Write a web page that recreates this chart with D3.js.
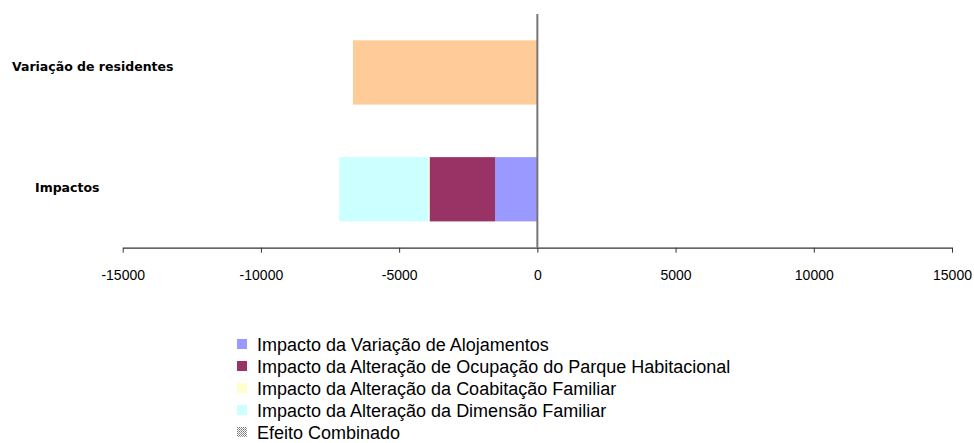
<!DOCTYPE html>
<html>
<head>
<meta charset="utf-8">
<script src="https://cdn.jsdelivr.net/npm/d3@7"></script>
<style>
  body { margin: 0; background: #fff; }
  svg { display: block; }
</style>
</head>
<body>
<div id="canvas"></div>
<script>
/*
 * Data
 */
const categories = ['Variação de residentes', 'Impactos'];
const seriesNames = [
  'Impacto da Variação de Alojamentos',
  'Impacto da Alteração de Ocupação do Parque Habitacional',
  'Impacto da Alteração da Coabitação Familiar',
  'Impacto da Alteração da Dimensão Familiar',
  'Efeito Combinado'
];
const variacaoResidentes = [-6670, 0];
const impactoAlojamentos = [0, -1530];
const impactoOcupacao = [0, -2370];
const impactoCoabitacao = [0, -40];
const impactoDimensao = [0, -3230];
const efeitoCombinado = [0, 0];
const xTicks = [-15000, -10000, -5000, 0, 5000, 10000, 15000];

/*
 * Layout
 */
const svgWidth = 974, svgHeight = 443;
const plot = { left: 122.7, right: 952, top: 14, bottom: 247.7 };
const seriesColors = ['#9999FF', '#993366', '#FFFFCC', '#CCFFFF', 'url(#dots)'];
const residentsColor = '#FFCC99';
const catLabel = {
  'Variação de residentes': { x: 12, dy: -1.5 },
  'Impactos': { x: 35, dy: 3 }
};

const svg = d3.select('#canvas').append('svg')
  .attr('width', svgWidth)
  .attr('height', svgHeight);

// dotted pattern for Efeito Combinado
const pat = svg.append('defs').append('pattern')
  .attr('id', 'dots')
  .attr('width', 2)
  .attr('height', 2)
  .attr('patternUnits', 'userSpaceOnUse');
pat.append('rect').attr('width', 2).attr('height', 2).attr('fill', '#fff');
pat.append('rect').attr('width', 1).attr('height', 1).attr('fill', '#777');
pat.append('rect').attr('x', 1).attr('y', 1).attr('width', 1).attr('height', 1).attr('fill', '#999');

const xScale = d3.scaleLinear()
  .domain([-15000, 15000])
  .range([plot.left, plot.right]);

const yScale = d3.scaleBand()
  .domain(categories)
  .range([plot.top, plot.bottom])
  .paddingInner(0.45)
  .paddingOuter(0.225);

/*
 * Stacked bars
 */
const rows = categories.map((c, i) => ({
  cat: c,
  s0: impactoAlojamentos[i],
  s1: impactoOcupacao[i],
  s2: impactoCoabitacao[i],
  s3: impactoDimensao[i],
  s4: efeitoCombinado[i]
}));
const stack = d3.stack()
  .keys(['s0', 's1', 's2', 's3', 's4'])
  .offset(d3.stackOffsetDiverging);
const stacked = stack(rows);

const bars = svg.append('g').attr('class', 'bars');

bars.selectAll('.res')
  .data(categories.map((c, i) => ({ cat: c, v: variacaoResidentes[i] })).filter(d => d.v !== 0))
  .enter().append('rect')
  .attr('class', 'res')
  .attr('x', d => xScale(Math.min(0, d.v)))
  .attr('y', d => yScale(d.cat))
  .attr('width', d => Math.abs(xScale(d.v) - xScale(0)))
  .attr('height', yScale.bandwidth())
  .attr('fill', residentsColor);

stacked.forEach((layer, k) => {
  bars.selectAll('.s' + k)
    .data(layer.filter(d => d[1] - d[0] !== 0))
    .enter().append('rect')
    .attr('class', 's' + k)
    .attr('x', d => xScale(d[0]))
    .attr('y', d => yScale(d.data.cat))
    .attr('width', d => xScale(d[1]) - xScale(d[0]))
    .attr('height', yScale.bandwidth())
    .attr('fill', seriesColors[k]);
});

/*
 * Axes
 */
const xAxis = svg.append('g')
  .attr('transform', `translate(0,${plot.bottom})`)
  .call(d3.axisBottom(xScale).tickValues(xTicks).tickSize(5).tickPadding(17).tickSizeOuter(0).tickFormat(d => String(d)));
xAxis.select('.domain').attr('stroke', '#333').attr('stroke-width', 1.2);
xAxis.selectAll('.tick line').attr('stroke', '#333');
xAxis.selectAll('.tick text')
  .attr('fill', '#000')
  .style('font-family', "'Liberation Sans', Arial, sans-serif")
  .style('font-size', '14px');

svg.append('line')
  .attr('x1', xScale(0)).attr('x2', xScale(0))
  .attr('y1', plot.top).attr('y2', plot.bottom)
  .attr('stroke', '#777')
  .attr('stroke-width', 2);

svg.append('g').selectAll('text')
  .data(categories)
  .enter().append('text')
  .attr('x', d => catLabel[d].x)
  .attr('y', d => yScale(d) + yScale.bandwidth() / 2 + catLabel[d].dy)
  .style('font-family', "'DejaVu Sans', sans-serif")
  .style('font-weight', 'bold')
  .style('font-size', '12.5px')
  .attr('fill', '#000')
  .text(d => d);

/*
 * Legend
 */
const legend = svg.append('g').attr('transform', 'translate(237,351)');
const items = legend.selectAll('g')
  .data(seriesNames)
  .enter().append('g')
  .attr('transform', (d, i) => `translate(0,${i * 22})`);
items.append('rect')
  .attr('x', 0).attr('y', -12)
  .attr('width', 10).attr('height', 10)
  .attr('fill', (d, i) => seriesColors[i]);
items.append('text')
  .attr('x', 20)
  .attr('y', 0)
  .style('font-family', "'Liberation Sans', Arial, sans-serif")
  .style('font-size', '18px')
  .attr('fill', '#000')
  .text(d => d);
</script>
</body>
</html>
